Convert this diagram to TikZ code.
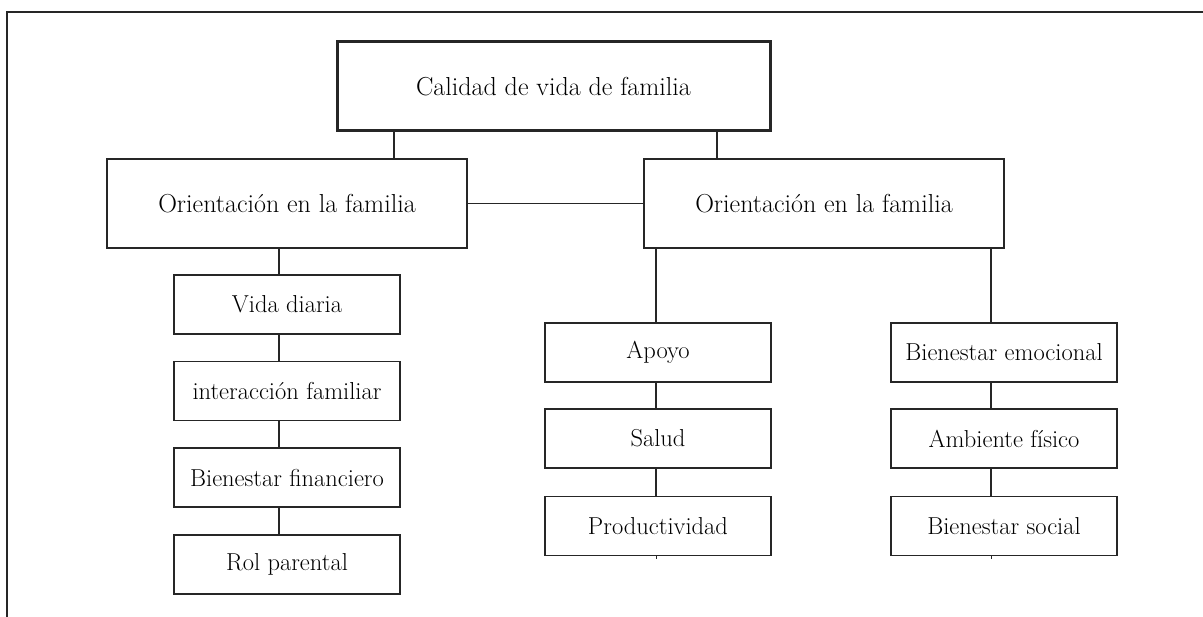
\documentclass[tikz,border=0pt]{standalone}
\usepackage{fontspec}
\begin{document}
\begin{tikzpicture}[x=1pt,y=-1pt,
  box/.style={draw=black!85, line width=1.5pt, inner sep=0pt, align=center},
  bigbox/.style={box, minimum width=360pt, minimum height=89pt, font=\fontsize{26}{30}\selectfont},
  topbox/.style={box, line width=3pt, minimum width=433pt, minimum height=89pt, font=\fontsize{26}{30}\selectfont},
  smallbox/.style={box, minimum width=226pt, minimum height=59pt, font=\fontsize{24.5}{28}\selectfont},
  link/.style={draw=black!85, line width=1.5pt}]
\useasboundingbox (0,0) rectangle (1203,617);
% frame
\coordinate (fa) at (1203,12);
\coordinate (fb) at (7,12);
\coordinate (fc) at (7,617);
\draw[link] (fa) -- (fb) -- (fc);
% main nodes
\node[topbox] (top) at (553.5,86.5) {Calidad de vida de familia};
\node[bigbox] (lo) at (287,203.5) {Orientación en la familia};
\node[bigbox] (ro) at (824,203.5) {Orientación en la familia};
% left column
\node[smallbox] (l1) at (287,304.5) {Vida diaria};
\node[smallbox] (l2) at (287,391) {interacción familiar};
\node[smallbox] (l3) at (287,477.5) {Bienestar financiero};
\node[smallbox] (l4) at (287,564.5) {Rol parental};
% middle column
\node[smallbox] (m1) at (658,352.5) {Apoyo};
\node[smallbox] (m2) at (658,438.5) {Salud};
\node[smallbox] (m3) at (658,526) {Productividad};
% right column
\node[smallbox] (r1) at (1004,352.5) {Bienestar emocional};
\node[smallbox] (r2) at (1004,438.5) {Ambiente físico};
\node[smallbox] (r3) at (1004,526) {Bienestar social};
% connector columns
\coordinate (xa) at (394,0);
\coordinate (xb) at (717,0);
\coordinate (xl) at (279,0);
\coordinate (xm) at (656,0);
\coordinate (xr) at (991,0);
\draw[link] (top.south -| xa) -- (lo.north -| xa);
\draw[link] (top.south -| xb) -- (ro.north -| xb);
\draw[link] (lo.east) -- (ro.west);
\draw[link] (lo.south -| xl) -- (l1.north -| xl);
\draw[link] (l1.south -| xl) -- (l2.north -| xl);
\draw[link] (l2.south -| xl) -- (l3.north -| xl);
\draw[link] (l3.south -| xl) -- (l4.north -| xl);
\draw[link] (ro.south -| xm) -- (m1.north -| xm);
\draw[link] (m1.south -| xm) -- (m2.north -| xm);
\draw[link] (m2.south -| xm) -- (m3.north -| xm);
\draw[link] (ro.south -| xr) -- (r1.north -| xr);
\draw[link] (r1.south -| xr) -- (r2.north -| xr);
\draw[link] (r2.south -| xr) -- (r3.north -| xr);
% small ticks below last boxes
\coordinate (tm) at (656,559);
\coordinate (tr) at (991,559);
\draw[link, line width=0.8pt] (m3.south -| xm) -- (tm);
\draw[link, line width=0.8pt] (r3.south -| xr) -- (tr);
\end{tikzpicture}
\end{document}
